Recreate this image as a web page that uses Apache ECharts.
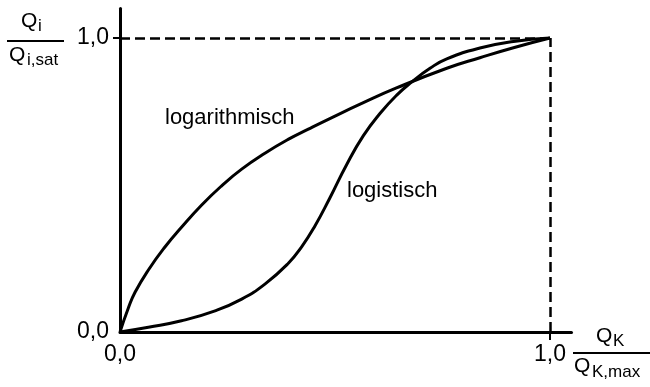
<!DOCTYPE html>
<html>
<head>
<meta charset="utf-8">
<script src="https://cdn.jsdelivr.net/npm/echarts@6/dist/echarts.min.js"></script>
<style>
  html, body { margin: 0; padding: 0; background: #fff; }
  #chart { width: 650px; height: 387px; }
</style>
</head>
<body>
<div id="chart"></div>
<script>
// Normalised load Q_K/Q_K,max (x) against relative value Q_i/Q_i,sat (y)
const tickValues = [0, 1];
const tickLabels = ['0,0', '1,0'];

const logarithmischX = [0, 0.019, 0.035, 0.066, 0.105, 0.143, 0.190, 0.237, 0.283, 0.337, 0.391, 0.438, 0.488, 0.566, 0.643, 0.760, 0.837, 0.915, 1.0];
const logarithmischY = [0, 0.080, 0.135, 0.211, 0.290, 0.356, 0.432, 0.498, 0.554, 0.608, 0.655, 0.690, 0.726, 0.780, 0.830, 0.897, 0.933, 0.967, 1.0];

const logistischX = [0, 0.066, 0.143, 0.221, 0.283, 0.337, 0.391, 0.422, 0.453, 0.488, 0.527, 0.566, 0.605, 0.643, 0.678, 0.721, 0.760, 0.837, 0.915, 1.0];
const logistischY = [0, 0.016, 0.038, 0.072, 0.112, 0.163, 0.233, 0.289, 0.360, 0.456, 0.569, 0.668, 0.744, 0.805, 0.850, 0.897, 0.929, 0.966, 0.988, 1.0];

const curveNames = ['logarithmisch', 'logistisch'];

const zip = (xs, ys) => xs.map((x, i) => [x, ys[i]]);
const FONT = '"Liberation Sans", Arial, sans-serif';

const chart = echarts.init(document.getElementById('chart'), null, { renderer: 'canvas' });

const lineStyle = { color: '#000', width: 3 };
const dash = { color: '#000', width: 2.5, type: [10, 5] };

chart.setOption({
  animation: false,
  backgroundColor: '#fff',
  grid: { left: 120, right: 78.5, top: 8.6, bottom: 55, containLabel: false },
  xAxis: {
    type: 'value', min: 0, max: 1.05, interval: 1,
    splitLine: { show: false },
    axisLine: { onZero: false, lineStyle: { color: '#000', width: 3 } },
    axisTick: { customValues: [1], length: 8, lineStyle: { color: '#000', width: 2 } },
    axisLabel: {
      customValues: tickValues, margin: 11,
      color: '#000', fontFamily: FONT, fontSize: 23,
      formatter: v => tickLabels[tickValues.indexOf(v)]
    }
  },
  yAxis: {
    type: 'value', min: 0, max: 1.1, interval: 1,
    splitLine: { show: false },
    axisLine: { onZero: false, lineStyle: { color: '#000', width: 3 } },
    axisTick: { customValues: [1], length: 7, lineStyle: { color: '#000', width: 2 } },
    axisLabel: {
      customValues: tickValues, margin: 11,
      color: '#000', fontFamily: FONT, fontSize: 23,
      formatter: v => tickLabels[tickValues.indexOf(v)]
    }
  },
  series: [
    {
      name: curveNames[0], type: 'line', data: zip(logarithmischX, logarithmischY),
      smooth: 0.5, showSymbol: false, symbol: 'none', lineStyle,
      markLine: {
        silent: true, symbol: 'none', label: { show: false }, lineStyle: dash,
        data: [
          [{ coord: [0, 1] }, { coord: [1, 1] }],
          [{ coord: [1, 0] }, { coord: [1, 1] }]
        ]
      }
    },
    {
      name: curveNames[1], type: 'line', data: zip(logistischX, logistischY),
      smooth: 0.5, showSymbol: false, symbol: 'none', lineStyle
    }
  ],
  graphic: [
    // curve captions
    { type: 'text', left: 165, top: 107, style: { text: curveNames[0], font: '22px ' + FONT, fill: '#000' } },
    { type: 'text', left: 347, top: 180, style: { text: curveNames[1], font: '22px ' + FONT, fill: '#000' } },
    // y-axis name: Q_i / Q_i,sat
    { type: 'text', x: 21, y: 11, style: { text: 'Q', font: '21px ' + FONT, fill: '#000' } },
    { type: 'text', x: 38, y: 18, style: { text: 'i', font: '17px ' + FONT, fill: '#000' } },
    { type: 'line', shape: { x1: 7, y1: 41, x2: 64, y2: 41 }, style: { stroke: '#000', lineWidth: 2 } },
    { type: 'text', x: 9, y: 45, style: { text: 'Q', font: '21px ' + FONT, fill: '#000' } },
    { type: 'text', x: 27, y: 52, style: { text: 'i,sat', font: '17px ' + FONT, fill: '#000' } },
    // x-axis name: Q_K / Q_K,max
    { type: 'text', x: 596, y: 326, style: { text: 'Q', font: '21px ' + FONT, fill: '#000' } },
    { type: 'text', x: 613, y: 333, style: { text: 'K', font: '17px ' + FONT, fill: '#000' } },
    { type: 'line', shape: { x1: 573, y1: 353, x2: 650, y2: 353 }, style: { stroke: '#000', lineWidth: 2 } },
    { type: 'text', x: 574, y: 356, style: { text: 'Q', font: '21px ' + FONT, fill: '#000' } },
    { type: 'text', x: 592, y: 364, style: { text: 'K,max', font: '17px ' + FONT, fill: '#000' } }
  ]
});
</script>
</body>
</html>
